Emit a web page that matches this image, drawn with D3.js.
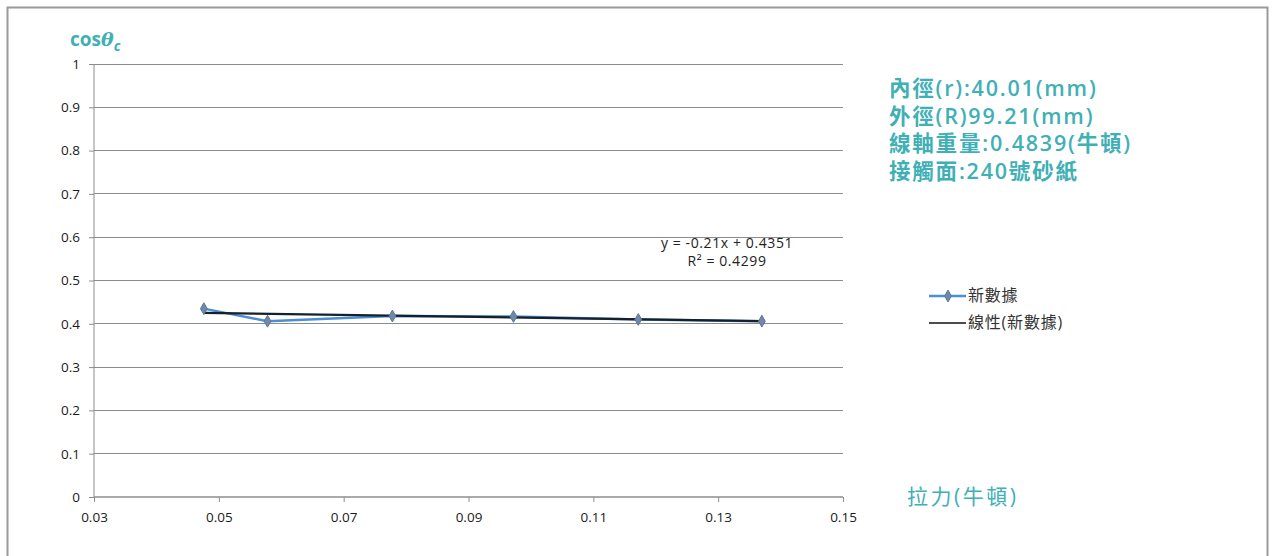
<!DOCTYPE html>
<html><head><meta charset="utf-8">
<script src="https://cdn.jsdelivr.net/npm/d3@7"></script>
<style>body{margin:0;background:#fff}svg{display:block}</style>
</head><body>
<script>
const xValues = [0.0476, 0.0578, 0.0778, 0.0972, 0.1172, 0.1370];
const yValues = [0.435, 0.406, 0.418, 0.417, 0.410, 0.406];
const trendSlope = -0.21, trendIntercept = 0.4351;
const xTicks = [0.03, 0.05, 0.07, 0.09, 0.11, 0.13, 0.15];
const yTicks = [0, 0.1, 0.2, 0.3, 0.4, 0.5, 0.6, 0.7, 0.8, 0.9, 1];
const infoLines = ["內徑(r):40.01(mm)", "外徑(R)99.21(mm)", "線軸重量:0.4839(牛頓)", "接觸面:240號砂紙"];
const legendLabels = ["新數據", "線性(新數據)"];
const trendLabels = ["y = -0.21x + 0.4351", "R² = 0.4299"];

const W = 1274, H = 556;
const svg = d3.select("body").append("svg").attr("width", W).attr("height", H);
const font = "'Open Sans','Noto Sans CJK TC',sans-serif";
const teal = "#3fb0b6";

svg.append("rect").attr("x", 7.5).attr("y", 7.5).attr("width", 1260).attr("height", 560)
  .attr("fill", "#fff").attr("stroke", "#9a9a9a").attr("stroke-width", 2);

const x = d3.scaleLinear().domain([0.03, 0.15]).range([94, 843]);
const y = d3.scaleLinear().domain([0, 1]).range([497, 64]);

// gridlines
svg.append("g").selectAll("line").data(yTicks.filter(d => d > 0)).join("line")
  .attr("x1", x(0.03)).attr("x2", x(0.15)).attr("y1", d => y(d)).attr("y2", d => y(d))
  .attr("stroke", "#8c8c8c").attr("stroke-width", 1).attr("shape-rendering", "crispEdges");

// y axis
const ya = svg.append("g").attr("transform", `translate(${x(0.03)},0)`)
  .call(d3.axisLeft(y).tickValues(yTicks).tickSize(5).tickPadding(9).tickFormat(d => d3.format("")(+d.toFixed(1))));
ya.select(".domain").attr("stroke", "#8c8c8c").attr("d", `M0,${y(0)}V${y(1)}`);
ya.selectAll(".tick line").attr("stroke", "#8c8c8c");
ya.selectAll("text").attr("font-family", font).attr("font-size", 13.5).attr("fill", "#1a1a1a");

// x axis
const xa = svg.append("g").attr("transform", `translate(0,${y(0)})`)
  .call(d3.axisBottom(x).tickValues(xTicks).tickSize(5).tickPadding(10).tickFormat(d3.format(".2f")));
xa.select(".domain").attr("stroke", "#8c8c8c").attr("d", `M${x(0.03)},0H${x(0.15)}`).attr("stroke-width", 1.5);
xa.selectAll(".tick line").attr("stroke", "#8c8c8c");
xa.selectAll("text").attr("font-family", font).attr("font-size", 13.5).attr("fill", "#1a1a1a");

// data line
const pts = xValues.map((v, i) => [v, yValues[i]]);
svg.append("path").datum(pts)
  .attr("d", d3.line().x(d => x(d[0])).y(d => y(d[1])))
  .attr("fill", "none").attr("stroke", "#4a8fd4").attr("stroke-width", 2.5);

// trendline
const tx = [xValues[0], xValues[xValues.length - 1]];
svg.append("line")
  .attr("x1", x(tx[0])).attr("y1", y(trendSlope * tx[0] + trendIntercept))
  .attr("x2", x(tx[1])).attr("y2", y(trendSlope * tx[1] + trendIntercept))
  .attr("stroke", "#15202b").attr("stroke-width", 2.2);

// markers
const diamond = d3.symbol().type(d3.symbolDiamond).size(40);
svg.append("g").selectAll("path").data(pts).join("path")
  .attr("transform", d => `translate(${x(d[0])},${y(d[1])})`)
  .attr("d", diamond).attr("fill", "#7089aa").attr("stroke", "#5a7698").attr("stroke-width", 1);

// trend label
svg.append("g").selectAll("text").data(trendLabels).join("text")
  .attr("x", 727).attr("y", (d, i) => 248 + i * 18).attr("text-anchor", "middle")
  .attr("font-family", font).attr("font-size", 14).attr("letter-spacing", 0.6).attr("fill", "#222").text(d => d);

// y title
const yt = svg.append("text").attr("x", 70).attr("y", 46).attr("font-family", font)
  .attr("font-size", 19).attr("font-weight", "bold").attr("fill", teal);
yt.append("tspan").text("cos");
yt.append("tspan").attr("font-style", "italic").attr("font-family", "'DejaVu Serif',serif").text("θ");
yt.append("tspan").attr("font-style", "italic").attr("font-size", 14).attr("dy", 5).text("c");

// info text
svg.append("g").selectAll("text").data(infoLines).join("text")
  .attr("x", 889).attr("y", (d, i) => 96 + i * 27.5)
  .attr("font-family", font).attr("font-size", 21.5).attr("font-weight", 600)
  .attr("letter-spacing", 1.8).attr("fill", teal).text(d => d);

// x title
svg.append("text").attr("x", 907).attr("y", 504).attr("font-family", font)
  .attr("font-size", 21).attr("letter-spacing", 2.5).attr("fill", teal).text("拉力(牛頓)");

// legend
const lg = svg.append("g");
lg.append("line").attr("x1", 929).attr("x2", 966).attr("y1", 296).attr("y2", 296)
  .attr("stroke", "#4a8fd4").attr("stroke-width", 2.5);
lg.append("path").attr("transform", "translate(948,296)").attr("d", diamond)
  .attr("fill", "#7089aa").attr("stroke", "#5a7698");
lg.append("line").attr("x1", 929).attr("x2", 966).attr("y1", 323).attr("y2", 323)
  .attr("stroke", "#111").attr("stroke-width", 1.5);
lg.selectAll("text").data(legendLabels).join("text")
  .attr("x", 968).attr("y", (d, i) => 301 + i * 27)
  .attr("font-family", font).attr("font-size", 16).attr("letter-spacing", 0.8).attr("fill", "#333").text(d => d);
</script>
</body></html>
